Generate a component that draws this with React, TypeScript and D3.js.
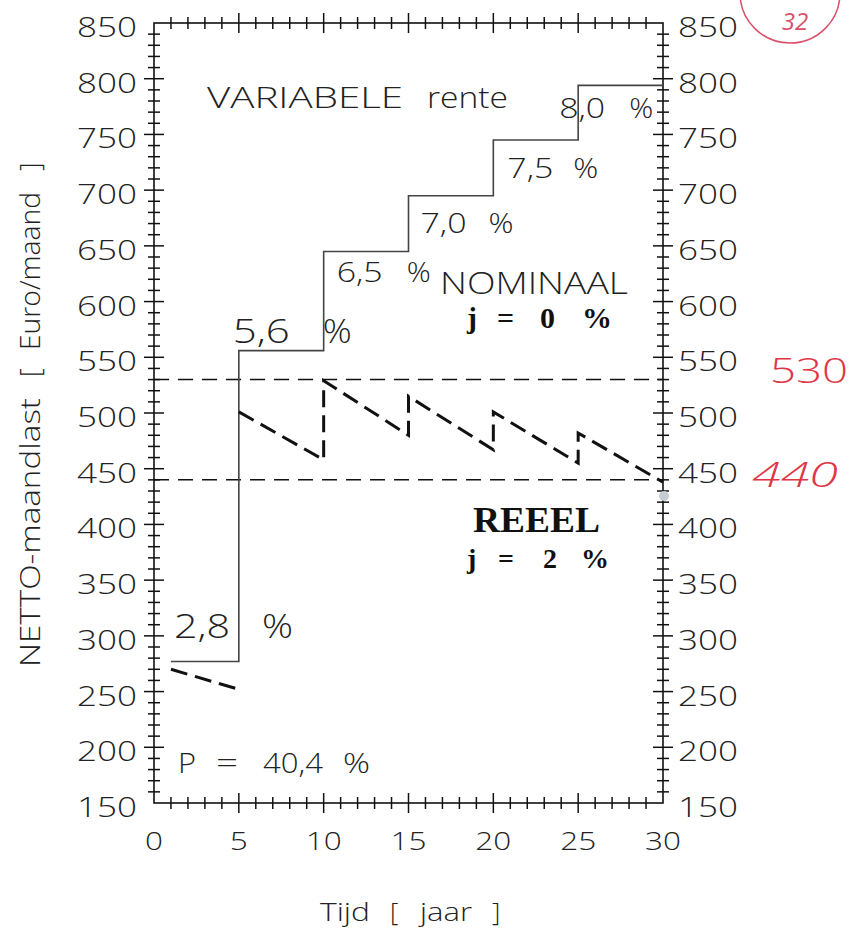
import React from "react";
import * as d3 from "d3";

// ---- data ----
const xTickYears = [0, 5, 10, 15, 20, 25, 30];
const yTickValues = [150, 200, 250, 300, 350, 400, 450, 500, 550, 600, 650, 700, 750, 800, 850];
const periodStart = [1, 5, 10, 15, 20, 25];
const periodEnd = [5, 10, 15, 20, 25, 30];
const rateLabels = ["2,8", "5,6", "6,5", "7,0", "7,5", "8,0"];
const nominalValues = [277, 556, 645, 695, 745, 794];
const reeelStartValues = [270, 501, 529, 515, 501, 482];
const reeelEndValues = [252, 458, 480, 467, 455, 438];
const referenceLines = [530, 440];
const handNotes = ["530", "440"];

// ---- layout (styling only) ----
const W = 865, H = 930;
const x = d3.scaleLinear().domain([0, 30]).range([154, 663]);
const y = d3.scaleLinear().domain([150, 850]).range([803, 23]);
const thin = "'Open Sans', 'DejaVu Sans', sans-serif";
const serif = "'Liberation Serif', 'DejaVu Serif', serif";

// label offsets relative to the start of each step (px), number & percent sign
const rateLayout = [
  { dx: 3, dy: -23, pct: 88, size: 33, w: 56, pw: 31 },
  { dx: -6, dy: -8, pct: 90, size: 33, w: 57, pw: 29 },
  { dx: 13, dy: 31, pct: 70, size: 28, w: 46, pw: 24 },
  { dx: 12, dy: 37, pct: 68, size: 28, w: 46, pw: 25 },
  { dx: 14, dy: 38, pct: 66, size: 28, w: 46, pw: 25 },
  { dx: -19, dy: 33, pct: 70, size: 28, w: 46, pw: 24 },
];

const lightText = { fontFamily: thin, fontWeight: 300, fill: "#222" } as const;
const boldText = { fontFamily: serif, fontWeight: 700, fill: "#111" } as const;

export default function App() {
  const nominalPts: [number, number][] = periodStart.map((s, i) => [s, nominalValues[i]]);
  nominalPts.push([periodEnd[periodEnd.length - 1], nominalValues[nominalValues.length - 1]]);
  const stepLine = d3
    .line<[number, number]>()
    .x((d) => x(d[0]))
    .y((d) => y(d[1]))
    .curve(d3.curveStepAfter);

  const sawLine = d3
    .line<[number, number]>()
    .x((d) => x(d[0]))
    .y((d) => y(d[1]));

  // first period alone; later periods joined by their vertical jumps
  const sawFirst: [number, number][] = [
    [periodStart[0], reeelStartValues[0]],
    [periodEnd[0], reeelEndValues[0]],
  ];
  const sawRest: [number, number][] = [];
  periodStart.forEach((s, i) => {
    if (i === 0) return;
    sawRest.push([s, reeelStartValues[i]]);
    sawRest.push([periodEnd[i], reeelEndValues[i]]);
  });

  const x0 = x(0), x1 = x(30), y0 = y(150), y1 = y(850);
  const yMinor = d3.range(160, 850, 10);
  const xMinor = d3.range(1, 30, 1);

  return (
    <svg
      width={W}
      height={H}
      style={{ position: "absolute", left: 0, top: 0, background: "#fff" }}
    >
      {/* frame */}
      <rect x={x0} y={y1} width={x1 - x0} height={y0 - y1} fill="none" stroke="#111" strokeWidth={1.6} />

      {/* y ticks (left and right) */}
      {yMinor.map((v) => {
        const len = v % 50 === 0 ? 10 : 6;
        return (
          <g key={"yt" + v} stroke="#111" strokeWidth={1.5}>
            <line x1={x0 - len} x2={x0 + len} y1={y(v)} y2={y(v)} />
            <line x1={x1 - len} x2={x1 + len} y1={y(v)} y2={y(v)} />
          </g>
        );
      })}
      {/* x ticks (bottom and top) */}
      {xMinor.map((v) => {
        const len = v % 5 === 0 ? 10 : 6;
        return (
          <g key={"xt" + v} stroke="#111" strokeWidth={1.5}>
            <line x1={x(v)} x2={x(v)} y1={y0 - len} y2={y0 + len} />
            <line x1={x(v)} x2={x(v)} y1={y1 - len} y2={y1 + len} />
          </g>
        );
      })}

      {/* y tick labels */}
      {yTickValues.map((v) => (
        <g key={"yl" + v} {...lightText} fontSize={27}>
          <text x={x0 - 17} y={y(v) + 14} textAnchor="end" textLength={60} lengthAdjust="spacingAndGlyphs">
            {v}
          </text>
          <text x={x1 + 15} y={y(v) + 14} textAnchor="start" textLength={60} lengthAdjust="spacingAndGlyphs">
            {v}
          </text>
        </g>
      ))}
      {/* x tick labels */}
      {xTickYears.map((v) => (
        <text
          key={"xl" + v}
          x={x(v)}
          y={y0 + 47}
          textAnchor="middle"
          {...lightText}
          fontSize={26}
          textLength={String(v).length * 18}
          lengthAdjust="spacingAndGlyphs"
        >
          {v}
        </text>
      ))}

      {/* axis titles */}
      <text y={921} {...lightText} fontSize={26}>
        <tspan x={320} textLength={50} lengthAdjust="spacingAndGlyphs">Tijd</tspan>
        <tspan x={390}>[</tspan>
        <tspan x={420} textLength={52} lengthAdjust="spacingAndGlyphs">jaar</tspan>
        <tspan x={492}>]</tspan>
      </text>
      <text transform="translate(40,667) rotate(-90)" {...lightText} fontSize={27}>
        <tspan x={0} textLength={269} lengthAdjust="spacingAndGlyphs">NETTO-maandlast</tspan>
        <tspan x={290}>[</tspan>
        <tspan x={317} textLength={158} lengthAdjust="spacingAndGlyphs">Euro/maand</tspan>
        <tspan x={496}>]</tspan>
      </text>

      {/* reference dashed lines */}
      {referenceLines.map((v) => (
        <line
          key={"ref" + v}
          x1={x0}
          x2={x1}
          y1={y(v)}
          y2={y(v)}
          stroke="#111"
          strokeWidth={1.5}
          strokeDasharray="15 9"
        />
      ))}

      {/* nominal step line */}
      <path d={stepLine(nominalPts) || ""} fill="none" stroke="#444" strokeWidth={1.6} />

      {/* real sawtooth */}
      <path d={sawLine(sawFirst) || ""} fill="none" stroke="#111" strokeWidth={3} strokeDasharray="17 8" />
      <path d={sawLine(sawRest) || ""} fill="none" stroke="#111" strokeWidth={3} strokeDasharray="17 8" />

      {/* rate labels */}
      {rateLabels.map((lab, i) => {
        const L = rateLayout[i];
        const bx = x(periodStart[i]) + L.dx;
        const by = y(nominalValues[i]) + L.dy;
        return (
          <g key={"rl" + i} {...lightText} fontSize={L.size}>
            <text x={bx} y={by} textLength={L.w} lengthAdjust="spacingAndGlyphs">
              {lab}
            </text>
            <text x={bx + L.pct} y={by} textLength={L.pw} lengthAdjust="spacingAndGlyphs">
              %
            </text>
          </g>
        );
      })}

      {/* annotations */}
      <text y={108} {...lightText} fontSize={30}>
        <tspan x={207} textLength={196} lengthAdjust="spacingAndGlyphs">VARIABELE</tspan>
        <tspan x={427} textLength={81} lengthAdjust="spacingAndGlyphs">rente</tspan>
      </text>
      <text x={440} y={294} {...lightText} fontSize={31} textLength={188} lengthAdjust="spacingAndGlyphs">
        NOMINAAL
      </text>
      <text y={328} {...boldText} fontSize={30}>
        <tspan x={467}>j</tspan>
        <tspan x={497}>=</tspan>
        <tspan x={540}>0</tspan>
        <tspan x={582}>%</tspan>
      </text>
      <text x={473} y={532} {...boldText} fontSize={36} textLength={127} lengthAdjust="spacingAndGlyphs">
        REEEL
      </text>
      <text y={568} {...boldText} fontSize={28}>
        <tspan x={467}>j</tspan>
        <tspan x={498}>=</tspan>
        <tspan x={543}>2</tspan>
        <tspan x={581}>%</tspan>
      </text>
      <text y={773} {...lightText} fontSize={28}>
        <tspan x={178} textLength={18} lengthAdjust="spacingAndGlyphs">P</tspan>
        <tspan x={216} textLength={22} lengthAdjust="spacingAndGlyphs">=</tspan>
        <tspan x={263} textLength={60} lengthAdjust="spacingAndGlyphs">40,4</tspan>
        <tspan x={343} textLength={27} lengthAdjust="spacingAndGlyphs">%</tspan>
      </text>

      {/* handwritten red notes */}
      <circle cx={790} cy={-7} r={50} fill="none" stroke="#d9506a" strokeWidth={1.5} />
      <text x={795} y={30} textAnchor="middle" fontFamily={thin} fontStyle="italic" fontSize={24} fill="#d9506a">
        32
      </text>
      <text x={770} y={383} fontFamily={thin} fontWeight={300} fontSize={34} fill="#e03545"
        textLength={78} lengthAdjust="spacingAndGlyphs">
        {handNotes[0]}
      </text>
      <text x={752} y={487} fontFamily={thin} fontWeight={300} fontStyle="italic" fontSize={34} fill="#e03545"
        textLength={86} lengthAdjust="spacingAndGlyphs">
        {handNotes[1]}
      </text>
      <circle cx={664} cy={496} r={5} fill="#c8ccd0" />
    </svg>
  );
}
